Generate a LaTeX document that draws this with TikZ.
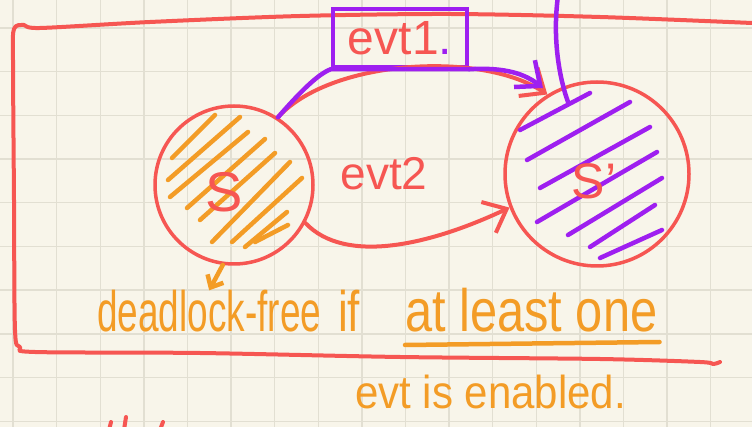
\documentclass[tikz,border=0pt]{standalone}
\usepackage{fontspec}
\setmainfont{Liberation Sans}
\usetikzlibrary{arrows.meta}
\definecolor{paper}{HTML}{F8F5EA}
\definecolor{gridc}{HTML}{E2DFD2}
\definecolor{pen}{HTML}{F65652}
\definecolor{amber}{HTML}{F39C26}
\definecolor{violet}{HTML}{9E1FF0}
\tikzset{
  redpen/.style={draw=pen, line width=4pt, line cap=round, line join=round},
  orangepen/.style={draw=amber, line width=4.5pt, line cap=round, line join=round},
  violetpen/.style={draw=violet, line width=4.5pt, line cap=round, line join=round},
  gridline/.style={draw=gridc, line width=1.4pt},
  state/.style={circle, draw=pen, line width=3.5pt, inner sep=0pt},
  hand/.style={font=\fontsize{#1}{#1}\selectfont, inner sep=0pt},
  barb/.style={-{Straight Barb[length=20pt,width=34pt]}},
  smallbarb/.style={-{Straight Barb[length=10pt,width=18pt]}},
}
\begin{document}
\begin{tikzpicture}[x=1pt,y=-1pt]
\fill[paper] (0,0) rectangle (752,427);
\useasboundingbox (0,0) rectangle (752,427);
% grid
\foreach \i in {0,...,17} {\draw[gridline] ({13+43.6*\i},0) -- ({13+43.6*\i},427);}
\foreach \j in {0,...,9} {\draw[gridline] (0,{28+43.7*\j}) -- (752,{28+43.7*\j});}
% frame
\draw[redpen] plot[smooth, tension=0.5] coordinates {(752,23) (600,17) (450,14) (300,16) (150,22) (40,28) (24,25) (14,29) (13,60) (14,200) (15,330) (20,347) (35,352) (200,353) (400,357) (600,359) (700,362) (713,364) (720,362)};
% states
\node[state, minimum size=158pt] (s) at (234,185) {};
\node[state, minimum size=184pt] (sp) at (597,174) {};
% hatching left
\foreach \a/\b in {{(172,158)}/{(215,115)}, {(168,180)}/{(240,117)}, {(170,197)}/{(248,132)}, {(187,208)}/{(265,139)}, {(200,220)}/{(275,153)}, {(212,242)}/{(290,162)}, {(232,242)}/{(302,178)}, {(245,247)}/{(287,212)}, {(255,242)}/{(288,225)}}
  {\draw[orangepen] \a -- \b;}
% hatching right
\foreach \a/\b in {{(520,130)}/{(590,93)}, {(527,160)}/{(630,102)}, {(540,188)}/{(650,127)}, {(537,222)}/{(657,152)}, {(568,235)}/{(662,178)}, {(590,247)}/{(655,205)}, {(600,258)}/{(662,230)}}
  {\draw[violetpen] \a -- \b;}
% labels in states
\node[hand=56pt, text=pen] (sl) at (224,192) {S};
\node[hand=50pt, text=pen] (spl) at (594,181) {S'};
% event box
\node[draw=violet, line width=4.5pt, minimum width=134pt, minimum height=58pt, hand=48pt, text=pen] (box) at (400,38) {evt1\textcolor{violet}{.}};
\node[hand=46pt, text=pen, anchor=base] (e2) at (384,190) {evt2};
% purple vertical
\coordinate (vtop) at (558,-4);
\coordinate (vend) at (568,102);
\draw[violetpen] (vtop) .. controls (552,40) and (560,80) .. (vend);
% connectors
\coordinate (ptip) at (543,88);
\draw[redpen, barb] (s.57) .. controls (330,60) and (480,50) .. (sp.122);
\draw[violetpen] (s.57) .. controls (300,92) and (318,74) .. (box.south west) -- (box.south east);
\draw[violetpen, barb] (box.south east) .. controls (505,67) and (525,74) .. (ptip);
\draw[redpen, barb] (s.-28) .. controls (345,265) and (430,245) .. (sp.201);
% orange text
\node[hand=44pt, text=amber, anchor=base west] (dl) at (97,332) {\scalebox{0.84}[1.3]{deadlock-free}};
\node[hand=44pt, text=amber, anchor=base west] (ifw) at (338,332) {\scalebox{1}[1.3]{if}};
\node[hand=46pt, text=amber, anchor=base west] (atl) at (405,332) {\scalebox{1.06}[1.3]{at least one}};
\node[hand=42pt, text=amber, anchor=base west] (en) at (355,408) {\scalebox{1}[1.1]{evt is enabled.}};
\draw[orangepen] ([yshift=-13pt]atl.base west) -- ([yshift=-10pt,xshift=2pt]atl.base east);
\draw[orangepen, smallbarb] (s.262) -- (dl.north);
% red marks at the bottom edge
\draw[redpen] (111,422) -- (109,430);
\draw[redpen] (126,417) -- (124,430);
\draw[redpen] (163,422) -- (160,430);
\end{tikzpicture}
\end{document}
